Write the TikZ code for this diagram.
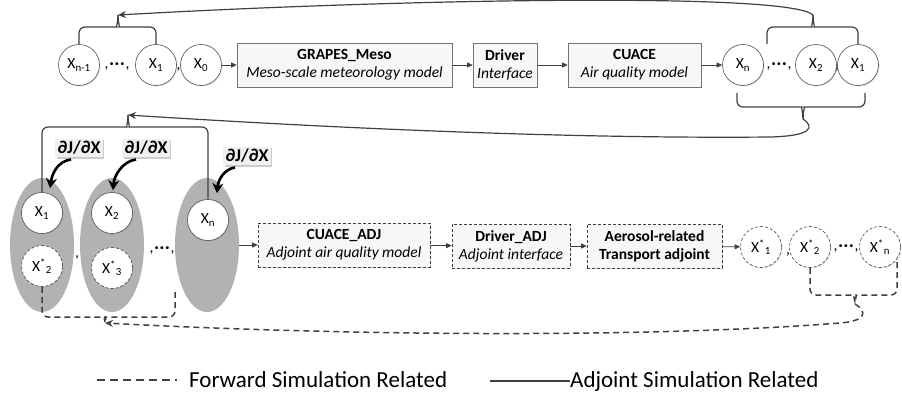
\documentclass[tikz,border=0pt]{standalone}
\usepackage{fontspec}
\setmainfont{Carlito}
\usetikzlibrary{arrows.meta,shadows,calc,shapes.geometric}
\newcommand\mydots{{,}\kern1.2pt\textbf{·\kern1.2pt·\kern1.2pt·}\kern1.2pt{,}}
\begin{document}
\begin{tikzpicture}[x=1pt,y=-1pt,
  ftext/.style={font=\fontsize{15.5}{18}\selectfont},
  conn/.style={draw=black!75, line width=1.2pt},
  dconn/.style={draw=black!75, line width=1.5pt, dash pattern=on 6pt off 4pt},
  arrtip/.style={-{Stealth[length=8pt,width=7pt]}},
  arr/.style={draw=black!75, line width=0.8pt, -{Triangle[length=5.5pt,width=5pt]}},
  mbox/.style={ftext, draw=black!55, fill=black!3, line width=0.6pt, minimum height=44pt, align=center, inner sep=2pt,
    drop shadow={shadow xshift=1.2pt, shadow yshift=-1.2pt, opacity=0.3}},
  dbox/.style={mbox, draw=black!75, dash pattern=on 3pt off 2pt},
  circ/.style={ftext, circle, draw=black!70, fill=white, line width=0.6pt, minimum size=41pt, inner sep=0pt,
    drop shadow={shadow xshift=1pt, shadow yshift=-1pt, opacity=0.2}},
  dcirc/.style={circ, draw=black!75, dash pattern=on 3pt off 2pt},
  ell/.style={ellipse, fill=black!30, draw=none, minimum width=64pt, minimum height=134pt, inner sep=0pt},
  labbox/.style={fill=black!6, inner sep=2.5pt, font=\bfseries\fontsize{18}{20}\selectfont,
    drop shadow={shadow xshift=1.5pt, shadow yshift=-1.5pt, opacity=0.4}},
  thk/.style={draw=black, line width=2.6pt, -{Stealth[length=10pt,width=11pt]}},
  commatext/.style={ftext, inner sep=0pt},
  legtext/.style={font=\fontsize{23}{26}\selectfont, inner sep=0pt, anchor=base west}
]
\useasboundingbox (0,0) rectangle (902,392);

% ---------- top row ----------
\node[circ] (tXn1) at (79,65) {X\textsubscript{n-1}};
\node[commatext] (c1) at (117,67) {\mydots};
\node[circ] (tX1) at (156,65) {X\textsubscript{1}};
\node[commatext] (c2) at (178.5,70) {,};
\node[circ] (tX0) at (201,65) {X\textsubscript{0}};
\node[mbox, minimum width=215pt] (grapes) at (344.5,65) {\textbf{GRAPES\_Meso}\\\textit{Meso-scale meteorology model}};
\node[mbox, minimum width=64pt] (driver) at (505,65) {\textbf{Driver}\\\textit{Interface}};
\node[mbox, minimum width=133pt] (cuace) at (634.5,65) {\textbf{CUACE}\\\textit{Air quality model}};
\node[circ] (tXn) at (743,65) {X\textsubscript{n}};
\node[commatext] (c3) at (779,67) {\mydots};
\node[circ] (tX2) at (816,65) {X\textsubscript{2}};
\node[commatext] (c4) at (837,70) {,};
\node[circ] (tX1b) at (858,65) {X\textsubscript{1}};

\draw[arr] (tX0) -- (grapes);
\draw[arr] (grapes) -- (driver);
\draw[arr] (driver) -- (cuace);
\draw[arr] (cuace) -- (tXn);

% top-left brace
\coordinate (tlP) at (118,15);
\draw[conn, rounded corners=6pt] (tXn1.north) -- (79,27) -- (111,27) .. controls (116,27) and (118,22) .. (tlP);
\draw[conn, rounded corners=6pt] (tX1.north) -- (156,27) -- (125,27) .. controls (120,27) and (118,22) .. (tlP);
% top-right brace
\coordinate (trL) at (767,44);
\coordinate (trP) at (813,15);
\draw[conn, rounded corners=6pt] (trL) -- (767,27) -- (806,27) .. controls (811,27) and (813,22) .. (trP);
\draw[conn, rounded corners=6pt] (tX1b.north) -- (858,27) -- (820,27) .. controls (815,27) and (813,22) .. (trP);
\draw[conn, arrtip] (trP) .. controls (790,-8) and (400,-1) .. (tlP);

% bottom brace under top row
\coordinate (brL) at (737,93);
\coordinate (brR) at (865,93);
\coordinate (brP) at (803,119);
\draw[conn, rounded corners=6pt] (brL) -- (737,107) -- (796,107) .. controls (801,107) and (803,112) .. (brP);
\draw[conn, rounded corners=6pt] (brR) -- (865,107) -- (810,107) .. controls (805,107) and (803,112) .. (brP);

% ---------- lower row ----------
\node[ell] (e1) at (42,245) {};
\node[ell] (e2) at (112,245) {};
\node[ell] (e3) at (207,245) {};
\node[circ] (bX1) at (42,213) {X\textsubscript{1}};
\node[dcirc] (bXs2) at (42,266) {X\textsuperscript{*}\textsubscript{2}};
\node[circ] (bX2) at (112,213) {X\textsubscript{2}};
\node[dcirc] (bXs3) at (112,268) {X\textsuperscript{*}\textsubscript{3}};
\node[circ] (bXn) at (208,220) {X\textsubscript{n}};
\node[commatext] (c5) at (77,258) {,};
\node[commatext] (c6) at (162,251) {\mydots};

\node[dbox, minimum width=172pt] (cadj) at (344,245) {\textbf{CUACE\_ADJ}\\\textit{Adjoint air quality model}};
\node[dbox, minimum width=118pt] (dadj) at (511,246) {\textbf{Driver\_ADJ}\\\textit{Adjoint interface}};
\node[dbox, minimum width=135pt] (aer) at (654.5,246) {\textbf{Aerosol-related}\\\textbf{Transport adjoint}};
\node[dcirc] (sX1) at (761,247) {X\textsuperscript{*}\textsubscript{1}};
\node[commatext] (c7) at (788,255) {,};
\node[dcirc] (sX2) at (810,247) {X\textsuperscript{*}\textsubscript{2}};
\node[commatext] (c8) at (846,249) {\mydots};
\node[dcirc] (sXn) at (880,247) {X\textsuperscript{*}\textsubscript{n}};

\draw[arr] (e3.east) -- (cadj.west);
\draw[arr] (cadj) -- (dadj);
\draw[arr] (dadj) -- (aer);
\draw[arr] (aer) -- (sX1);

% lower-left solid brace
\coordinate (llP) at (128,115);
\draw[conn, rounded corners=6pt] (bX1.north) -- (42,127) -- (121,127) .. controls (126,127) and (128,122) .. (llP);
\draw[conn, rounded corners=6pt] (bXn.north) -- (208,127) -- (135,127) .. controls (130,127) and (128,122) .. (llP);
\draw[conn, arrtip] (brP) .. controls (815,127) and (812,136) .. (770,137) .. controls (550,139) and (300,126) .. (llP);

% dJ/dX labels
\node[labbox] (l1) at (79,148) {∂J/∂X};
\node[labbox] (l2) at (146,148) {∂J/∂X};
\node[labbox] (l3) at (247,156) {∂J/∂X};
\draw[thk] ($(l1.south)+(-8,2)$) .. controls +(-14,2) and +(2,-14) .. ($(bX1.north)+(8,-4)$);
\draw[thk] ($(l2.south)+(-10,2)$) .. controls +(-14,2) and +(1,-14) .. ($(bX2.north)+(1,-2)$);
\draw[thk] ($(l3.south)+(-12,2)$) .. controls +(-12,2) and +(1,-12) .. ($(bXn.north)+(9,-6)$);

% lower dashed braces
\coordinate (rdR) at (897,262);
\coordinate (rdP) at (855,304);
\draw[dconn, rounded corners=6pt] (sX2.south) -- (810,295) -- (848,295) .. controls (853,295) and (855,299) .. (rdP);
\draw[dconn, rounded corners=6pt] (rdR) -- (897,295) -- (862,295) .. controls (857,295) and (855,299) .. (rdP);
\coordinate (ldR) at (175,292);
\coordinate (ldP) at (105,323);
\draw[dconn, rounded corners=6pt] (bXs2.south) -- (42,317) -- (99,317) .. controls (103,317) and (105,319) .. (ldP);
\draw[dconn, rounded corners=6pt] (ldR) -- (175,317) -- (111,317) .. controls (107,317) and (105,319) .. (ldP);
\draw[dconn, arrtip] (rdP) .. controls (868,312) and (866,321) .. (840,323) .. controls (650,338) and (350,336) .. (ldP);

% legend
\coordinate (lgA) at (97,380);
\coordinate (lgB) at (177,380);
\draw[dconn, line width=2pt, dash pattern=on 8pt off 5pt] (lgA) -- (lgB);
\node[legtext] (lgF) at (189,387) {Forward Simulation Related};
\coordinate (lgC) at (490,381);
\coordinate (lgD) at (570,381);
\draw[conn, line width=2pt] (lgC) -- (lgD);
\node[legtext] (lgJ) at (570,387) {Adjoint Simulation Related};
\end{tikzpicture}
\end{document}
